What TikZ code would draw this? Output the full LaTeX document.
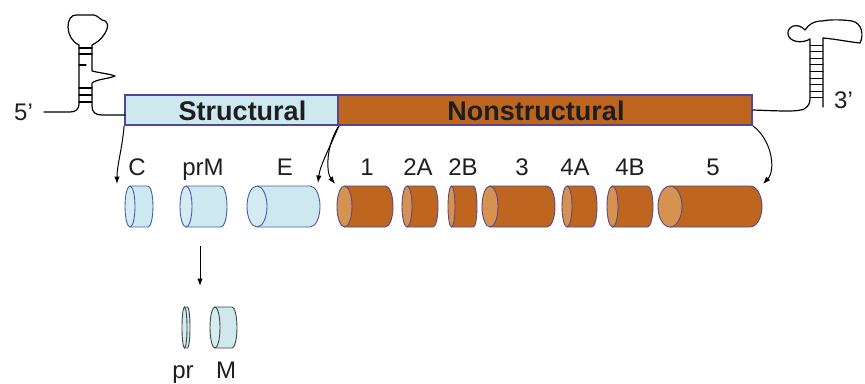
\documentclass[tikz,border=0pt]{standalone}
\usepackage{fontspec}
\setmainfont{Liberation Sans}
\usetikzlibrary{arrows.meta,calc}
\definecolor{lblue}{RGB}{205,232,238}
\definecolor{brownfill}{RGB}{190,102,32}
\definecolor{barline}{RGB}{80,72,150}
\definecolor{bluebody}{RGB}{205,232,238}
\definecolor{blueend}{RGB}{212,236,241}
\definecolor{blueline}{RGB}{70,92,180}
\definecolor{brownbody}{RGB}{190,102,32}
\definecolor{brownend}{RGB}{214,146,80}
\definecolor{brownline}{RGB}{92,72,130}
\definecolor{greybody}{RGB}{208,232,234}
\definecolor{greyend}{RGB}{214,236,238}
\definecolor{greyline}{RGB}{60,72,72}
\definecolor{txt}{RGB}{30,30,30}
\newcommand{\mycyl}[6]{%
  % #1 name, #2 xL, #3 xR, #4 rx, #5 y centre, #6 colour kind
  \node[inner sep=0pt, minimum width={#3-#2}, minimum height=41pt] (#1) at ({(#2+#3)/2},#5) {};
  \fill[#6body] ({#2+#4},{#5-20.5}) -- ({#3-#4},{#5-20.5})
     arc[start angle=90, end angle=-90, x radius=#4pt, y radius=20.5pt]
     -- ({#2+#4},{#5+20.5}) -- cycle;
  \draw[#6line, line width=0.9pt] ({#2+#4},{#5-20.5}) -- ({#3-#4},{#5-20.5})
     arc[start angle=90, end angle=-90, x radius=#4pt, y radius=20.5pt]
     -- ({#2+#4},{#5+20.5});
  \filldraw[fill=#6end, draw=#6line, line width=0.9pt] ({#2+#4},#5) ellipse[x radius=#4pt, y radius=20.5pt];
}
\begin{document}
\begin{tikzpicture}[x=1pt, y=-1pt,
  lbl/.style={inner sep=0pt, anchor=base, text=txt, font=\fontsize{24}{24}\selectfont},
  bartext/.style={inner sep=0pt, anchor=base, text=txt, font=\fontsize{27}{27}\selectfont\bfseries},
  barbox/.style={draw=barline, line width=1.8pt, inner sep=0pt, minimum height=30pt},
  arr/.style={line width=1pt, -{Latex[length=7.5pt,width=5.5pt]}},
  rna/.style={line width=1.2pt, black, line cap=round, line join=round}]
\useasboundingbox (0,0) rectangle (865,383);

% polyprotein bar
\node[barbox, fill=lblue, minimum width=213pt] (struct) at (231.5,110) {};
\node[barbox, fill=brownfill, minimum width=414pt] (nonstruct) at (545,110) {};
\node[bartext] (structlbl) at (242.5,120) {Structural};
\node[bartext] (nonstructlbl) at (536,120) {Nonstructural};

% 5' stem-loop
\node[lbl, anchor=base west] (p5) at (14,120) {5’};
\draw[rna] (44,112) -- (70,112) .. controls (76,112) and (79,109) .. (79,104) -- (79,45)
  .. controls (72,42) and (68,34) .. (68,27) .. controls (68,20) and (71,15) .. (76,15)
  -- (94,15) .. controls (98,16) and (100,19) .. (102,20)
  .. controls (106,20) and (109,24) .. (107,29) .. controls (105,35) and (100,41) .. (92,45)
  -- (92,71) .. controls (100,73) and (110,74) .. (115,76)
  .. controls (108,79) and (97,79) .. (92,83) -- (92,106)
  .. controls (92,112) and (95,115) .. (102,115) -- (125,115);
\foreach \yy in {48,54,88,95,102} \draw[rna] (79,\yy) -- (92,\yy);
\draw[rna] (79,65) -- (86,65);

% 3' stem-loop
\draw[rna] (nonstruct.east) .. controls (780,111) and (798,112) .. (804,109)
  .. controls (809,106) and (810,103) .. (810,98) -- (810,39)
  .. controls (802,44) and (789,42) .. (788,34) .. controls (787,26) and (798,22) .. (805,30)
  .. controls (809,24) and (814,21) .. (822,21) .. controls (832,19) and (845,20) .. (852,21)
  .. controls (862,23) and (864,35) .. (860,43) .. controls (850,42) and (835,39) .. (823,38)
  -- (823,107);
\foreach \yy in {45,51.6,...,99} \draw[rna, line width=0.9pt] (810,\yy) -- (823,\yy);
\node[lbl, anchor=base west] (p3) at (834,108) {3’};

% cleaved proteins
\mycyl{C}{125}{153}{5}{206.5}{blue}
\mycyl{prM}{180}{227}{6}{206.5}{blue}
\mycyl{E}{247}{320}{10}{206.5}{blue}
\mycyl{n1}{337}{393}{7.5}{206.5}{brown}
\mycyl{n2A}{402}{438}{5}{206.5}{brown}
\mycyl{n2B}{448}{477}{3.5}{206.5}{brown}
\mycyl{n3}{482}{555}{8}{206.5}{brown}
\mycyl{n4A}{562}{597}{5}{206.5}{brown}
\mycyl{n4B}{607}{653}{5.5}{206.5}{brown}
\mycyl{n5}{658}{762}{12}{206.5}{brown}
\mycyl{pr}{182}{190}{2.5}{327.5}{grey}
\mycyl{M}{210}{237}{5}{327.5}{grey}

% labels
\node[lbl] (lC) at (137,175) {C};
\node[lbl] (lprM) at (203,175) {prM};
\node[lbl] (lE) at (285,175) {E};
\node[lbl] (l1) at (367,175) {1};
\node[lbl] (l2A) at (418,175) {2A};
\node[lbl] (l2B) at (463,175) {2B};
\node[lbl] (l3) at (522,175) {3};
\node[lbl] (l4A) at (575,175) {4A};
\node[lbl] (l4B) at (630,175) {4B};
\node[lbl] (l5) at (713,175) {5};
\node[lbl] (lpr) at (183,378) {pr};
\node[lbl] (lM) at (226,378) {M};

% cleavage arrows
\coordinate (tC) at (117,184);
\coordinate (tE) at (318,183);
\coordinate (t1) at (335,184);
\coordinate (t5) at (763,184);
\coordinate (vs) at (200,246);
\coordinate (ve) at (200,286);
\draw[arr] (struct.south west) .. controls (122,150) and (117,165) .. (tC);
\draw[arr] (struct.south east) .. controls (331,145) and (320,165) .. (tE);
\draw[arr] (struct.south east) .. controls (326,145) and (326,172) .. (t1);
\draw[arr] (nonstruct.south east) .. controls (772,140) and (776,170) .. (t5);
\draw[arr] (vs) -- (ve);
\end{tikzpicture}
\end{document}
